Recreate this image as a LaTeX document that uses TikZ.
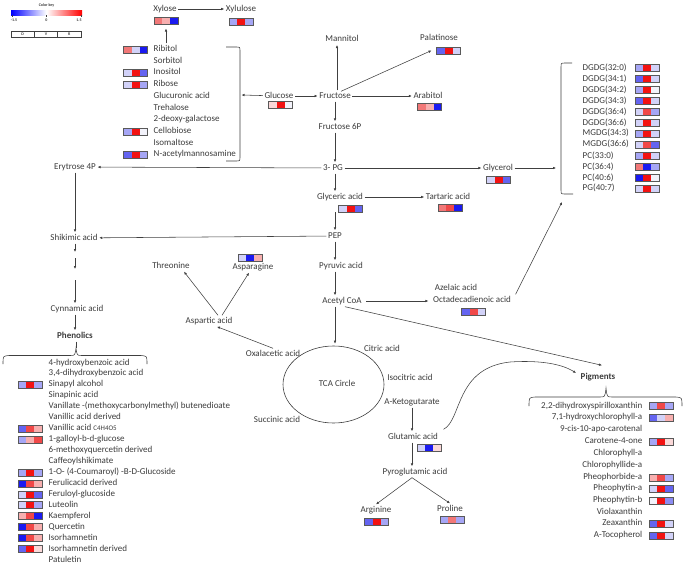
\documentclass[tikz,border=0pt]{standalone}
\usepackage{fontspec}
\setmainfont{Carlito}
\usetikzlibrary{arrows.meta,shapes.geometric}
\definecolor{tx}{HTML}{3C3C3C}
\definecolor{lc}{HTML}{404040}
\definecolor{hb}{HTML}{1A1AF0}
\definecolor{hmb}{HTML}{6464F0}
\definecolor{hlb}{HTML}{A6A6F5}
\definecolor{hbb}{HTML}{8C8CF2}
\definecolor{hvl}{HTML}{D2D2F8}
\definecolor{hw}{HTML}{F2F2FA}
\definecolor{hr}{HTML}{F21212}
\definecolor{hmr}{HTML}{F04848}
\definecolor{hlr}{HTML}{F27878}
\definecolor{hp}{HTML}{F7AFAF}
\definecolor{hvp}{HTML}{FAD8D8}
\tikzset{
  lbl/.style={inner sep=1.5pt, text height=6.3pt, text depth=1.7pt, text=tx},
  arr/.style={draw=lc, line width=0.55pt, -{Latex[length=3pt,width=2.6pt]}},
  brc/.style={draw=lc, line width=0.55pt},
  hm/.style n args={3}{draw=black!65, line width=0.5pt, minimum width=24pt, minimum height=7pt,
    inner sep=0pt, outer sep=0pt, path picture={
      \fill[#1] (path picture bounding box.south west) rectangle ++(8pt,7pt);
      \fill[#2] ([xshift=8pt]path picture bounding box.south west) rectangle ++(8pt,7pt);
      \fill[#3] ([xshift=16pt]path picture bounding box.south west) rectangle ++(8pt,7pt);}},
  tiny/.style={inner sep=0pt, font=\fontsize{4}{4.5}\selectfont\bfseries, text=tx}
}
\begin{document}
\begin{tikzpicture}[x=1pt,y=-1pt,font=\fontsize{9}{10}\selectfont]
\useasboundingbox[fill=white] (0,0) rectangle (685,565);

% ---------- colour key ----------
\node[tiny] (ckT) at (46.5,5) {Color key};
\shade[left color=blue, right color=red, middle color=white] (11,10) rectangle (82,15);
\draw[lc,line width=0.4pt] (12,15) -- (12,17) (46.5,15) -- (46.5,17) (81,15) -- (81,17);
\node[tiny] (ck1) at (14,20.5) {-1.5};
\node[tiny] (ck2) at (46.5,20.5) {0};
\node[tiny] (ck3) at (79,20.5) {1.5};
\draw[lc,line width=0.5pt] (11,31) rectangle (81,37) (34.3,31) -- (34.3,37) (57.7,31) -- (57.7,37);
\node[tiny] (ckD) at (22.7,34) {D};
\node[tiny] (ckV) at (46,34) {V};
\node[tiny] (ckR) at (69.3,34) {R};

% ---------- pathway nodes ----------
\node[lbl] (Xyl) at (165,9) {Xylose};
\node[lbl] (Xylu) at (241,9) {Xylulose};
\node[lbl] (Man) at (342,39) {Mannitol};
\node[lbl] (Pal) at (439,38) {Palatinose};
\node[lbl] (Glc) at (279,96) {Glucose};
\node[lbl] (Fru) at (335,96) {Fructose};
\node[lbl] (Ara) at (428,96) {Arabitol};
\node[lbl] (F6P) at (340,127) {Fructose 6P};
\node[lbl] (Ery) at (75,167) {Erytrose 4P};
\node[lbl] (PG3) at (333,168) {3- PG};
\node[lbl] (Gly) at (498,168) {Glycerol};
\node[lbl] (Gla) at (340,197) {Glyceric acid};
\node[lbl] (Tar) at (448,197) {Tartaric acid};
\node[lbl] (Shi) at (74,238) {Shikimic acid};
\node[lbl] (PEP) at (335,236) {PEP};
\node[lbl] (Thr) at (171,266) {Threonine};
\node[lbl] (Asn) at (253,267) {Asparagine};
\node[lbl] (Pyr) at (341,266) {Pyruvic acid};
\node[lbl] (Aze) at (456,288) {Azelaic acid};
\node[lbl] (Oct) at (472,300) {Octadecadienoic acid};
\node[lbl] (Ac) at (342,301) {Acetyl CoA};
\node[lbl] (Cyn) at (77,309) {Cynnamic acid};
\node[lbl] (Phe) at (75,336) {\bfseries Phenolics};
\node[lbl] (Asp) at (209,321) {Aspartic acid};
\node[draw=lc, line width=0.6pt, ellipse, minimum width=101pt, minimum height=77pt, inner sep=0pt] (TCA) at (333.5,384.5) {};
\node[lbl] (TCAl) at (337,384) {TCA Circle};
\node[lbl] (Oxa) at (273,354) {Oxalacetic acid};
\node[lbl] (Cit) at (382,349) {Citric acid};
\node[lbl] (Iso) at (410,378) {Isocitric acid};
\node[lbl] (AKG) at (412,402) {A-Ketogutarate};
\node[lbl] (Suc) at (277,420) {Succinic acid};
\node[lbl] (Glu) at (413,437) {Glutamic acid};
\node[lbl] (Pyg) at (415,472) {Pyroglutamic acid};
\node[lbl] (Arg) at (376,510) {Arginine};
\node[lbl] (Pro) at (450,509) {Proline};
\node[lbl] (Pig) at (598,377) {\bfseries Pigments};

% ---------- pathway heat maps ----------
\node[hm={hlr}{hp}{hb}] (hXyl) at (166,21) {};
\node[hm={hlb}{hr}{hlb}] (hXylu) at (241,22) {};
\node[hm={hmb}{hr}{hvl}] (hPal) at (448.5,50.5) {};
\node[hm={hvp}{hr}{hw}] (hGlc) at (280.5,105) {};
\node[hm={hlr}{hp}{hb}] (hAra) at (429.5,106.5) {};
\node[hm={hvl}{hr}{hmb}] (hGly) at (498.5,180) {};
\node[hm={hvl}{hr}{hmb}] (hGla) at (350.5,208.5) {};
\node[hm={hlr}{hmr}{hb}] (hTar) at (450,208) {};
\node[hm={hvl}{hb}{hp}] (hAsn) at (250,258) {};
\node[hm={hmb}{hmr}{hvl}] (hOct) at (473.5,312) {};
\node[hm={hvl}{hb}{hvp}] (hGlu) at (429,448) {};
\node[hm={hmb}{hr}{hlb}] (hArg) at (376.5,521.5) {};
\node[hm={hlb}{hlr}{hlb}] (hPro) at (452,520) {};

% ---------- sugar list ----------
\node[lbl,anchor=west] (s1) at (152,49) {Ribitol};
\node[lbl,anchor=west] (s2) at (152,61) {Sorbitol};
\node[lbl,anchor=west] (s3) at (152,72) {Inositol};
\node[lbl,anchor=west] (s4) at (152,84) {Ribose};
\node[lbl,anchor=west] (s5) at (152,96) {Glucuronic acid};
\node[lbl,anchor=west] (s6) at (152,108) {Trehalose};
\node[lbl,anchor=west] (s7) at (152,119) {2-deoxy-galactose};
\node[lbl,anchor=west] (s8) at (152,131) {Cellobiose};
\node[lbl,anchor=west] (s9) at (152,143) {Isomaltose};
\node[lbl,anchor=west] (s10) at (152,154) {N-acetylmannosamine};
\node[hm={hlr}{hvl}{hb}] (hs1) at (135.5,49.5) {};
\node[hm={hvl}{hr}{hmb}] (hs3) at (135.5,72.5) {};
\node[hm={hvl}{hr}{hlb}] (hs4) at (135.5,84.5) {};
\node[hm={hlb}{hr}{hw}] (hs8) at (135.5,131.5) {};
\node[hm={hmb}{hr}{hlb}] (hs10) at (135.5,154.5) {};
\draw[brc] (226,47) -- (237,47) .. controls (240,47) .. (240,50) -- (240,158) .. controls (240,161) .. (237,161) -- (226,161);
\coordinate (sugB) at (241.5,95);

% ---------- lipid list ----------
\node[lbl,anchor=west] (l1) at (581,68) {DGDG(32:0)};
\node[lbl,anchor=west] (l2) at (581,79) {DGDG(34:1)};
\node[lbl,anchor=west] (l3) at (581,90) {DGDG(34:2)};
\node[lbl,anchor=west] (l4) at (581,101) {DGDG(34:3)};
\node[lbl,anchor=west] (l5) at (581,112) {DGDG(36:4)};
\node[lbl,anchor=west] (l6) at (581,123) {DGDG(36:6)};
\node[lbl,anchor=west] (l7) at (581,133.5) {MGDG(34:3)};
\node[lbl,anchor=west] (l8) at (581,144.5) {MGDG(36:6)};
\node[lbl,anchor=west] (l9) at (581,156) {PC(33:0)};
\node[lbl,anchor=west] (l10) at (581,167) {PC(36:4)};
\node[lbl,anchor=west] (l11) at (581,178) {PC(40:6)};
\node[lbl,anchor=west] (l12) at (581,188.5) {PG(40:7)};
\node[hm={hlb}{hr}{hvl}] (hl1) at (647,68) {};
\node[hm={hmb}{hr}{hvl}] (hl2) at (647,79) {};
\node[hm={hlb}{hr}{hw}] (hl3) at (647,90) {};
\node[hm={hmb}{hr}{hvl}] (hl4) at (647,101) {};
\node[hm={hvl}{hmr}{hlb}] (hl5) at (647,112) {};
\node[hm={hvl}{hr}{hvl}] (hl6) at (647,123) {};
\node[hm={hlb}{hr}{hvl}] (hl7) at (647,133.5) {};
\node[hm={hvl}{hmr}{hmb}] (hl8) at (647,144.5) {};
\node[hm={hlb}{hr}{hvl}] (hl9) at (647,156) {};
\node[hm={hlr}{hb}{hlb}] (hl10) at (647,167) {};
\node[hm={hb}{hr}{hw}] (hl11) at (647,178) {};
\node[hm={hvl}{hr}{hvl}] (hl12) at (647,188.5) {};
\draw[brc] (572,63) -- (565,63) .. controls (561,63) .. (561,67) -- (561,190) .. controls (561,194) .. (565,194) -- (573,194);
\coordinate (lipB) at (556,168);
\coordinate (lipC) at (562,202);

% ---------- phenolics list ----------
\node[lbl,anchor=west] (p1) at (47,363) {4-hydroxybenzoic acid};
\node[lbl,anchor=west] (p2) at (47,373.5) {3,4-dihydroxybenzoic acid};
\node[lbl,anchor=west] (p3) at (47,384.5) {Sinapyl alcohol};
\node[lbl,anchor=west] (p4) at (47,395.5) {Sinapinic acid};
\node[lbl,anchor=west] (p5) at (47,406) {Vanillate -(methoxycarbonylmethyl) butenedioate};
\node[lbl,anchor=west] (p6) at (47,417.5) {Vanillic acid derived};
\node[lbl,anchor=west] (p7) at (47,428.5) {Vanillic acid {\fontsize{7}{8}\selectfont C4H4O5}};
\node[lbl,anchor=west] (p8) at (47,439.5) {1-galloyl-b-d-glucose};
\node[lbl,anchor=west] (p9) at (47,450) {6-methoxyquercetin derived};
\node[lbl,anchor=west] (p10) at (47,461) {Caffeoylshikimate};
\node[lbl,anchor=west] (p11) at (47,472.5) {1-O- (4-Coumaroyl) -B-D-Glucoside};
\node[lbl,anchor=west] (p12) at (47,483.5) {Ferulicacid derived};
\node[lbl,anchor=west] (p13) at (47,494.5) {Feruloyl-glucoside};
\node[lbl,anchor=west] (p14) at (47,505) {Luteolin};
\node[lbl,anchor=west] (p15) at (47,516) {Kaempferol};
\node[lbl,anchor=west] (p16) at (47,527) {Quercetin};
\node[lbl,anchor=west] (p17) at (47,538) {Isorhamnetin};
\node[lbl,anchor=west] (p18) at (47,549) {Isorhamnetin derived};
\node[lbl,anchor=west] (p19) at (47,560) {Patuletin};
\node[hm={hlb}{hr}{hlb}] (hp3) at (30,385) {};
\node[hm={hmb}{hmr}{hp}] (hp7) at (30,428.5) {};
\node[hm={hlb}{hp}{hmr}] (hp8) at (30,439.5) {};
\node[hm={hlb}{hr}{hlb}] (hp11) at (30,472.5) {};
\node[hm={hb}{hmr}{hp}] (hp12) at (30,483.5) {};
\node[hm={hvl}{hr}{hmb}] (hp13) at (30,494.5) {};
\node[hm={hvl}{hr}{hlb}] (hp14) at (30,505) {};
\node[hm={hp}{hmr}{hb}] (hp15) at (30,516) {};
\node[hm={hb}{hmr}{hp}] (hp16) at (30,527) {};
\node[hm={hb}{hmr}{hp}] (hp17) at (30,538) {};
\node[hm={hmb}{hr}{hvp}] (hp18) at (30,549) {};
\draw[brc] (3,364) .. controls (3,356) .. (9,355.5) -- (70,355.5) .. controls (75,355.5) .. (76,348)
  .. controls (77,355.5) .. (82,355.5) -- (141,355.5) .. controls (147,356) .. (147,364);
\coordinate (phT) at (76,348);

% ---------- pigments list ----------
\node[lbl,anchor=east] (g1) at (644,406) {2,2-dihydroxyspirilloxanthin};
\node[lbl,anchor=east] (g2) at (644,417.5) {7,1-hydroxychlorophyll-a};
\node[lbl,anchor=east] (g3) at (644,429.5) {9-cis-10-apo-carotenal};
\node[lbl,anchor=east] (g4) at (644,441) {Carotene-4-one};
\node[lbl,anchor=east] (g5) at (644,453) {Chlorophyll-a};
\node[lbl,anchor=east] (g6) at (644,465) {Chlorophyllide-a};
\node[lbl,anchor=east] (g7) at (644,477) {Pheophorbide-a};
\node[lbl,anchor=east] (g8) at (644,488.5) {Pheophytin-a};
\node[lbl,anchor=east] (g9) at (644,500) {Pheophytin-b};
\node[lbl,anchor=east] (g10) at (644,512) {Violaxanthin};
\node[lbl,anchor=east] (g11) at (644,523.5) {Zeaxanthin};
\node[lbl,anchor=east] (g12) at (644,535) {A-Tocopherol};
\node[hm={hlb}{hmr}{hlb}] (hg1) at (661,406) {};
\node[hm={hmb}{hvl}{hp}] (hg2) at (661,417.5) {};
\node[hm={hlb}{hr}{hvp}] (hg4) at (661,441.5) {};
\node[hm={hp}{hmr}{hlb}] (hg7) at (661,478) {};
\node[hm={hvl}{hr}{hmb}] (hg8) at (661,489) {};
\node[hm={hw}{hr}{hbb}] (hg9) at (661,500.5) {};
\node[hm={hmb}{hr}{hvl}] (hg11) at (661,524) {};
\node[hm={hmb}{hr}{hvl}] (hg12) at (661,535.5) {};
\draw[brc] (529,406) .. controls (529,397.5) .. (535,397) -- (600,397) .. controls (605,397) .. (606,388)
  .. controls (607,397) .. (612,397) -- (676,397) .. controls (682,397.5) .. (682,406);

% ---------- connectors ----------
\coordinate (spine) at (335,0);
\coordinate (manB) at (337,45);
\draw[arr] (Xyl) -- (Xylu);
\draw[arr] (s1.north -| hXyl.south) -- ([yshift=-4pt]hXyl.south);
\draw[arr] (Glc) -- (sugB);
\draw[arr] (Glc) -- (Fru);
\draw[arr] (Fru.north -| manB) -- (manB);
\draw[arr] ([xshift=6pt,yshift=-1pt]Fru.north) -- ([xshift=-5pt]hPal.west);
\draw[arr] (Fru) -- (Ara);
\draw[arr] (Fru.south -| spine) -- (F6P.north -| spine);
\draw[arr] (F6P.south -| spine) -- (PG3.north -| spine);
\draw[arr] (PG3) -- (Ery);
\draw[arr] (PG3) -- (Gly);
\draw[arr] (Gly) -- (lipB);
\draw[arr] (PG3.south -| spine) -- (Gla.north -| spine);
\draw[arr] (Gla) -- (Tar);
\draw[arr] (hGla.south -| spine) -- (PEP.north -| spine);
\draw[arr] (PEP) -- (Shi);
\draw[arr] (PEP.south -| spine) -- (Pyr.north -| spine);
\draw[arr] (Pyr.south -| spine) -- (Ac.north -| spine);
\draw[arr, shorten <=3pt, shorten >=3pt] (Ac.east) -- (Ac.east -| Oct.west);
\draw[arr] ([xshift=3pt]Oct.north east) -- (lipC);
\draw[arr] (Ac.south -| spine) -- ([yshift=2pt]TCA.north -| spine);
\draw[arr] ([xshift=3pt]Ac.south) -- ([xshift=4pt,yshift=6pt]Pig.north);
\draw[arr] ([xshift=4pt,yshift=2pt]Glu.north east) .. controls (462,420) and (455,368) .. (510,362)
  .. controls (540,360) and (562,364) .. ([xshift=-3pt,yshift=4pt]Pig.west);
\draw[arr] (Oxa.north) -- ([xshift=8pt]Asp.south);
\draw[arr] ([xshift=9pt]Asp.north) -- ([xshift=13pt]Thr.south);
\draw[arr] ([xshift=13pt]Asp.north) -- ([xshift=-4pt]Asn.south);
\draw[arr] (AKG.south) -- (AKG.south |- Glu.north);
\draw[arr] (Glu.south -| AKG.south) -- (Pyg.north -| AKG.south);
\draw[arr] ([xshift=-3pt]Pyg.south) -- (Arg.north);
\draw[arr] ([xshift=-3pt]Pyg.south) -- (Pro.north);
\coordinate (sh1) at (75,252);
\coordinate (sh2) at (75,258);
\coordinate (sh3) at (75,269);
\coordinate (sh4) at (75,280);
\draw[arr] (Ery.south -| sh1) -- (Shi.north -| sh1);
\draw[arr] (Shi.south -| sh1) -- (sh1);
\draw[arr] (sh2) -- (sh3);
\draw[arr] (sh4) -- (Cyn.north -| sh4);
\draw[arr] (Cyn.south -| sh4) -- (Phe.north -| sh4);
\draw[brc] (Phe.south -| phT) -- (phT);
\end{tikzpicture}
\end{document}
